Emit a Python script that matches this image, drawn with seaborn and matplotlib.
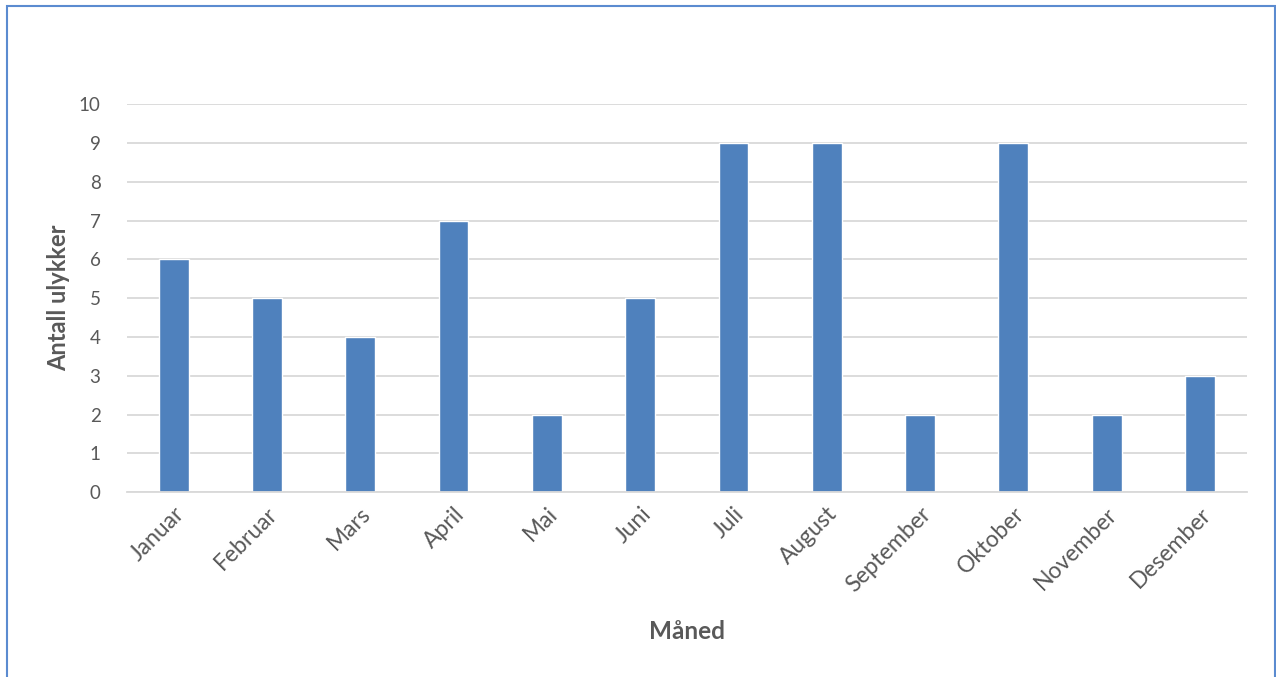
import matplotlib
matplotlib.use("Agg")
import matplotlib.pyplot as plt
import seaborn as sns
import pandas as pd
from matplotlib.patches import Rectangle

months = ["Januar", "Februar", "Mars", "April", "Mai", "Juni", "Juli",
          "August", "September", "Oktober", "November", "Desember"]
accidents = [6, 5, 4, 7, 2, 5, 9, 9, 2, 9, 2, 3]

df = pd.DataFrame({"month": months, "count": accidents})

sns.set_theme(style="white")
plt.rcParams["font.family"] = ["Lato", "DejaVu Sans"]

fig = plt.figure(figsize=(12.76, 6.77), dpi=100)
ax = fig.add_axes([0.0995, 0.273, 0.8775, 0.573])

sns.barplot(data=df, x="month", y="count", color="#4F81BD", width=0.32,
            saturation=1, ax=ax)

ax.set_ylim(0, 10)
ax.set_yticks(range(0, 11))
ax.set_xlim(-0.5, len(months) - 0.5)
ax.grid(axis="y", color="#D9D9D9", linewidth=1.3)
ax.set_axisbelow(True)
for s in ["top", "right", "left"]:
    ax.spines[s].set_visible(False)
ax.spines["bottom"].set_color("#D9D9D9")
ax.spines["bottom"].set_linewidth(1.3)
ax.tick_params(axis="both", length=0, colors="#595959")
ax.tick_params(axis="y", pad=19, labelsize=13.5)
ax.tick_params(axis="x", pad=8, labelsize=16.5)
plt.setp(ax.get_xticklabels(), rotation=45, ha="right", rotation_mode="anchor")

ax.set_xlabel("Måned", fontsize=17.5, fontweight="bold", color="#595959", labelpad=17)
ax.set_ylabel("Antall ulykker", fontsize=17, fontweight="bold", color="#595959", labelpad=6)

# outer frame
fig.patches.append(Rectangle((7 / 1276, -0.05), 1268 / 1276, 1 - 6 / 677 + 0.05,
                             transform=fig.transFigure, fill=False,
                             edgecolor="#5B8BD0", linewidth=1.5))

fig.savefig("out.png", dpi=100)
